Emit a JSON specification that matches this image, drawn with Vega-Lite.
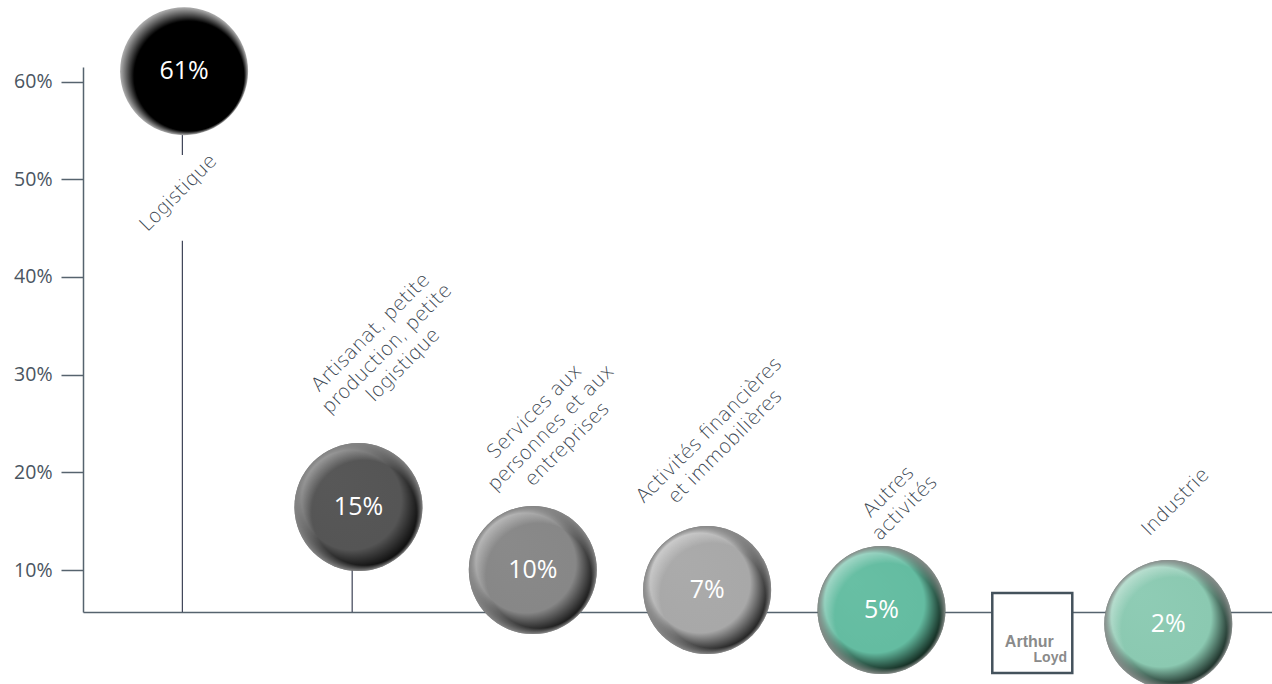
{
  "$schema": "https://vega.github.io/schema/vega-lite/v6.json",
  "width": 1189,
  "height": 545,
  "autosize": {"type": "none"},
  "padding": {"left": 83, "top": 67, "right": 0, "bottom": 72},
  "background": "white",
  "config": {"view": {"stroke": null}},
  "datasets": {
    "bubbles": [
      {"cat": "Logistique", "lines": ["Logistique"], "share": "61%", "pos": 1.0, "level": 61.07, "lpos": 0.966, "llevel": 48.6},
      {"cat": "Artisanat", "lines": ["Artisanat, petite", "production, petite", "logistique"], "share": "15%", "pos": 2.0, "level": 16.45, "lpos": 2.07, "llevel": 34.3},
      {"cat": "Services", "lines": ["Services aux", "personnes et aux", "entreprises"], "share": "10%", "pos": 3.0, "level": 10.0, "lpos": 3.01, "llevel": 26.2},
      {"cat": "Activites", "lines": ["Activités financières", "et immobilières"], "share": "7%", "pos": 4.0, "level": 7.95, "lpos": 4.01, "llevel": 24.3},
      {"cat": "Autres", "lines": ["Autres", "activités"], "share": "5%", "pos": 5.0, "level": 5.9, "lpos": 5.04, "llevel": 18.0},
      {"cat": "Industrie", "lines": ["Industrie"], "share": "2%", "pos": 6.645, "level": 4.47, "lpos": 6.686, "llevel": 16.96}
    ],
    "stems": [
      {"pos": 0.99, "from": 5.7, "to": 43.7},
      {"pos": 0.99, "from": 52.5, "to": 61.0},
      {"pos": 1.964, "from": 5.7, "to": 16.45}
    ],
    "logo": [
      {"pos": 5.865, "level": 3.55}
    ]
  },
  "encoding": {
    "x": {"field": "pos", "type": "quantitative", "scale": {"domain": [0.42, 7.24], "nice": false, "zero": false},
      "axis": {"domain": true, "domainColor": "#56636e", "domainWidth": 1.5, "ticks": false, "labels": false, "grid": false, "title": null}},
    "y": {"field": "level", "type": "quantitative", "scale": {"domain": [5.7, 61.5], "nice": false, "zero": false},
      "axis": {"values": [10, 20, 30, 40, 50, 60], "labelExpr": "datum.value + '%'", "domainColor": "#56636e", "domainWidth": 1.5, "tickColor": "#56636e", "tickWidth": 1.5, "tickSize": 22, "labelPadding": 9, "labelFont": "Open Sans", "labelFontSize": 19.5, "labelColor": "#4a5561", "grid": false, "title": null}}
  },
  "layer": [
    {
      "data": {"name": "stems"},
      "mark": {"type": "rule", "color": "#3d4256", "strokeWidth": 1.2},
      "encoding": {"y": {"field": "from", "type": "quantitative"}, "y2": {"field": "to"}}
    },
    {
      "data": {"name": "bubbles"},
      "transform": [{"filter": "datum.cat === 'Logistique'"}],
      "mark": {"type": "point", "shape": "circle", "filled": true, "size": 16384, "opacity": 1, "strokeWidth": 0,
        "fill": {"gradient": "radial", "x1": 0.78, "y1": 0.78, "r1": 0, "x2": 0.5, "y2": 0.5, "r2": 0.5,
          "stops": [{"offset": 0, "color": "#000000"}, {"offset": 0.86, "color": "#000000"}, {"offset": 1, "color": "#b0b0b0"}]}}
    },
    {
      "data": {"name": "bubbles"},
      "transform": [{"filter": "datum.cat === 'Artisanat'"}],
      "mark": {"type": "point", "shape": "circle", "filled": true, "size": 16384, "opacity": 1, "strokeWidth": 0,
        "fill": {"gradient": "radial", "x1": 0.25, "y1": 0.25, "r1": 0, "x2": 0.5, "y2": 0.5, "r2": 0.5,
          "stops": [{"offset": 0, "color": "#585858"}, {"offset": 0.78, "color": "#555555"}, {"offset": 1, "color": "#050505"}]}}
    },
    {
      "data": {"name": "bubbles"},
      "transform": [{"filter": "datum.cat === 'Services'"}],
      "mark": {"type": "point", "shape": "circle", "filled": true, "size": 16384, "opacity": 1, "strokeWidth": 0,
        "fill": {"gradient": "radial", "x1": 0.25, "y1": 0.25, "r1": 0, "x2": 0.5, "y2": 0.5, "r2": 0.5,
          "stops": [{"offset": 0, "color": "#8a8a8a"}, {"offset": 0.78, "color": "#878787"}, {"offset": 1, "color": "#0c0c0c"}]}}
    },
    {
      "data": {"name": "bubbles"},
      "transform": [{"filter": "datum.cat === 'Activites'"}],
      "mark": {"type": "point", "shape": "circle", "filled": true, "size": 16384, "opacity": 1, "strokeWidth": 0,
        "fill": {"gradient": "radial", "x1": 0.25, "y1": 0.25, "r1": 0, "x2": 0.5, "y2": 0.5, "r2": 0.5,
          "stops": [{"offset": 0, "color": "#ababab"}, {"offset": 0.78, "color": "#a8a8a8"}, {"offset": 1, "color": "#111111"}]}}
    },
    {
      "data": {"name": "bubbles"},
      "transform": [{"filter": "datum.cat === 'Autres'"}],
      "mark": {"type": "point", "shape": "circle", "filled": true, "size": 16384, "opacity": 1, "strokeWidth": 0,
        "fill": {"gradient": "radial", "x1": 0.25, "y1": 0.25, "r1": 0, "x2": 0.5, "y2": 0.5, "r2": 0.5,
          "stops": [{"offset": 0, "color": "#68bfa4"}, {"offset": 0.78, "color": "#64bca1"}, {"offset": 1, "color": "#08170f"}]}}
    },
    {
      "data": {"name": "bubbles"},
      "transform": [{"filter": "datum.cat === 'Industrie'"}],
      "mark": {"type": "point", "shape": "circle", "filled": true, "size": 16384, "opacity": 1, "strokeWidth": 0,
        "fill": {"gradient": "radial", "x1": 0.25, "y1": 0.25, "r1": 0, "x2": 0.5, "y2": 0.5, "r2": 0.5,
          "stops": [{"offset": 0, "color": "#8fccb5"}, {"offset": 0.78, "color": "#8bc9b1"}, {"offset": 1, "color": "#0f1c17"}]}}
    },
    {
      "data": {"name": "bubbles"},
      "transform": [{"filter": "datum.cat !== 'Logistique'"}],
      "mark": {"type": "point", "shape": "circle", "filled": true, "size": 16384, "opacity": 1, "strokeWidth": 0,
        "fill": {"gradient": "radial", "x1": 0.75, "y1": 0.75, "r1": 0, "x2": 0.5, "y2": 0.5, "r2": 0.5,
          "stops": [{"offset": 0, "color": "rgba(255,255,255,0)"}, {"offset": 0.82, "color": "rgba(255,255,255,0)"}, {"offset": 1, "color": "rgba(255,255,255,0.5)"}]}}
    },
    {
      "data": {"name": "bubbles"},
      "mark": {"type": "text", "font": "Open Sans", "fontSize": 25, "color": "white", "align": "center", "baseline": "middle"},
      "encoding": {"text": {"field": "share"}}
    },
    {
      "data": {"name": "bubbles"},
      "mark": {"type": "text", "font": "DejaVu Sans", "fontWeight": 200, "fontSize": 19.5, "lineHeight": 23, "color": "#3c4752", "align": "center", "baseline": "middle", "angle": -45},
      "encoding": {
        "x": {"field": "lpos", "type": "quantitative"},
        "y": {"field": "llevel", "type": "quantitative"},
        "text": {"field": "lines"}
      }
    },
    {
      "data": {"name": "logo"},
      "mark": {"type": "point", "shape": "square", "filled": true, "size": 6400, "opacity": 1, "fill": "white", "stroke": "#44525c", "strokeWidth": 2.5}
    },
    {
      "data": {"name": "logo"},
      "mark": {"type": "text", "text": "Arthur", "font": "Liberation Sans", "fontWeight": "bold", "fontSize": 16, "color": "#8a8a8a", "align": "center", "baseline": "middle", "dx": -3, "dy": 9}
    },
    {
      "data": {"name": "logo"},
      "mark": {"type": "text", "text": "Loyd", "font": "Liberation Sans", "fontWeight": "bold", "fontSize": 14, "color": "#8a8a8a", "align": "center", "baseline": "middle", "dx": 18, "dy": 25}
    }
  ]
}
